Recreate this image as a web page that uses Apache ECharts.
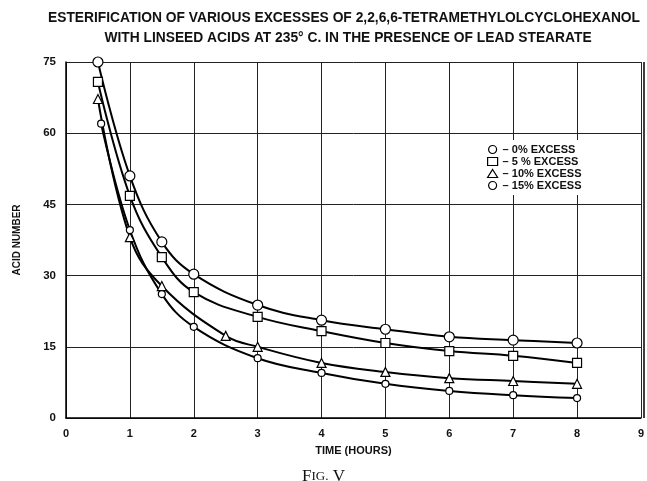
<!DOCTYPE html>
<html>
<head>
<meta charset="utf-8">
<script src="https://cdn.jsdelivr.net/npm/echarts@6/dist/echarts.min.js"></script>
<style>html,body{margin:0;padding:0;background:#fff}#c{width:647px;height:481px}</style>
</head>
<body>
<div id="c"></div>
<script>
const titleLines = ["ESTERIFICATION OF VARIOUS EXCESSES OF 2,2,6,6-TETRAMETHYLOLCYCLOHEXANOL", "WITH LINSEED ACIDS AT 235° C. IN THE PRESENCE OF LEAD STEARATE"];
const seriesNames = ["– 0% EXCESS", "– 5 % EXCESS", "– 10% EXCESS", "– 15% EXCESS"];
const hours0 = [0.5, 1, 1.5, 2, 3, 4, 5, 6, 7, 8];
const acid0 = [75, 51, 37.1, 30.3, 23.8, 20.6, 18.7, 17.1, 16.4, 15.8];
const hours5 = [0.5, 1, 1.5, 2, 3, 4, 5, 6, 7, 8];
const acid5 = [70.8, 46.8, 33.9, 26.5, 21.3, 18.3, 15.8, 14.1, 13.1, 11.6];
const hours10 = [0.5, 1, 1.5, 2.5, 3, 4, 5, 6, 7, 8];
const acid10 = [67.2, 38.1, 27.8, 17.3, 15.0, 11.6, 9.7, 8.4, 7.8, 7.2];
const hours15 = [0.55, 1, 1.5, 2, 3, 4, 5, 6, 7, 8];
const acid15 = [62, 39.6, 26.1, 19.2, 12.6, 9.5, 7.2, 5.7, 4.8, 4.2];
const xTicks = [0, 1, 2, 3, 4, 5, 6, 7, 8, 9];
const yTicks = [0, 15, 30, 45, 60, 75];
const xName = "TIME (HOURS)";
const yName = "ACID NUMBER";
const figLabel = ["F", "IG.", " V"];

const symbols = ['circle', 'rect', 'triangle', 'circle'];
const sizes = [10, 9, 9, 7];
const xs = [hours0, hours5, hours10, hours15];
const ys = [acid0, acid5, acid10, acid15];
const font = '"Liberation Sans", Arial, sans-serif';
const serif = '"Liberation Serif", "DejaVu Serif", serif';

const chart = echarts.init(document.getElementById('c'), null, {renderer: 'canvas'});
chart.setOption({
  animation: false,
  backgroundColor: '#fff',
  title: [
    {text: titleLines[0], left: 339, textAlign: 'center', top: 6, textStyle: {fontFamily: font, fontSize: 13.8, fontWeight: 'bold', color: '#111'}},
    {text: titleLines[1], left: 343, textAlign: 'center', top: 26, textStyle: {fontFamily: font, fontSize: 13.8, fontWeight: 'bold', color: '#111'}},
    {text: '{a|' + figLabel[0] + '}{b|' + figLabel[1] + '}{a|' + figLabel[2] + '}', left: 'center', top: 463,
     textStyle: {fontWeight: 'normal', rich: {a: {fontFamily: serif, fontSize: 17, fontWeight: 'normal', color: '#111'}, b: {fontFamily: serif, fontSize: 13, fontWeight: 'normal', color: '#111'}}}}
  ],
  grid: {left: 66, right: 3, top: 62, bottom: 63},
  legend: {
    orient: 'vertical', left: 479, top: 140,
    itemWidth: 10, itemHeight: 8, itemGap: 1,
    backgroundColor: '#fff', padding: [4, 12, 4, 8],
    textStyle: {fontFamily: font, fontSize: 11, fontWeight: 'bold', color: '#111', lineHeight: 11},
    data: seriesNames.map((n, i) => ({name: n, icon: symbols[i], itemStyle: {color: '#fff', borderColor: '#000', borderWidth: 1.2}}))
  },
  xAxis: {
    type: 'value', min: 0, max: 9, interval: 1,
    name: xName, nameLocation: 'middle', nameGap: 27,
    nameTextStyle: {fontFamily: font, fontSize: 11, fontWeight: 'bold', color: '#111'},
    axisLine: {lineStyle: {color: '#000', width: 1.5}},
    axisTick: {show: false},
    axisLabel: {fontFamily: font, fontSize: 11, fontWeight: 'bold', color: '#111', margin: 10},
    splitLine: {show: true, lineStyle: {color: '#222', width: 1}}
  },
  yAxis: {
    type: 'value', min: 0, max: 75, interval: 15,
    name: yName, nameLocation: 'middle', nameGap: 44, nameRotate: 90,
    nameTextStyle: {fontFamily: font, fontSize: 10, fontWeight: 'bold', color: '#111'},
    axisLine: {show: true, lineStyle: {color: '#000', width: 1.5}},
    axisTick: {show: false},
    axisLabel: {fontFamily: font, fontSize: 11.5, fontWeight: 'bold', color: '#111', margin: 10},
    splitLine: {show: true, lineStyle: {color: '#222', width: 1}}
  },
  graphic: [{type: 'rect', shape: {x: 644, y: 62, width: 0, height: 356}, style: {stroke: '#000', lineWidth: 1.5}}],
  series: seriesNames.map((n, i) => ({
    name: n, type: 'line', smooth: 0.4,
    data: xs[i].map((x, j) => [x, ys[i][j]]),
    symbol: symbols[i], symbolSize: sizes[i],
    lineStyle: {color: '#000', width: 2},
    itemStyle: {color: '#fff', borderColor: '#000', borderWidth: 1.2},
    z: 3
  }))
});
</script>
</body>
</html>
